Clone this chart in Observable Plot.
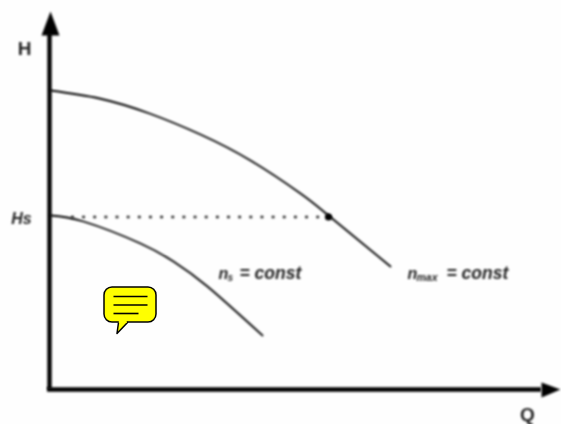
<!DOCTYPE html>
<html><head><meta charset="utf-8">
<script src="https://cdn.jsdelivr.net/npm/d3@7"></script>
<script src="https://cdn.jsdelivr.net/npm/@observablehq/plot@0.6"></script>
<style>
html,body{margin:0;padding:0;background:#fff}
svg{display:block}
g.soft{filter:blur(0.8px)}
</style></head><body><div id="c"></div>
<script>
// Q = pixels right of origin, H = pixels above origin
const nmaxQ=[1,50,100,151,201,251,279,341];
const nmaxH=[299,291,276,255,229,196,174,123];
const nsQ=[1,34,91,124,158,213];
const nsH=[174,168,146,128,103,54];
const hsLevel=172.5, hsQ=279, hsStart=22;
const axisQ=[0,492], axisH=[0,356];
const headUp={q:[-8,1,10,-8],h:[354,378,354,354]};
const headRight={q:[492,511,492,492],h:[7,0,-8,7]};
const bubble={q1:55,q2:107,h1:67,h2:102};
const tailQ=[69,67.5,78], tailH=[67,56,67];
const textLines=[{q1:64,q2:98,h:93},{q1:64,q2:98,h:84.5},{q1:64,q2:89,h:76}];
const toRows=(q,h)=>q.map((v,i)=>({q:v,h:h[i]}));
const dark="#000";
const soft={className:"soft"};
const font='"Liberation Sans",Arial,sans-serif';
const label={textAnchor:"start",fontFamily:font,fontStyle:"italic",fontWeight:"bold",fill:"#222",...soft};
const plot=Plot.plot({
  width:561,height:424,margin:0,style:{background:"#fefefe"},
  x:{type:"linear",domain:[-49,512],range:[0,561],axis:null},
  y:{type:"linear",domain:[-35,389],range:[424,0],axis:null},
  marks:[
    Plot.line(toRows(nmaxQ,nmaxH),{x:"q",y:"h",stroke:"#000",strokeWidth:1.8,curve:"natural",...soft}),
    Plot.line(toRows(nsQ,nsH),{x:"q",y:"h",stroke:"#000",strokeWidth:1.8,curve:"natural",...soft}),
    Plot.ruleY([hsLevel],{x1:hsStart,x2:hsQ,stroke:"#222",strokeWidth:2.6,strokeDasharray:"2.8 8.35",...soft}),
    Plot.dot([{q:hsQ,h:hsLevel}],{x:"q",y:"h",r:3.6,fill:"#000",...soft}),
    Plot.ruleX([0],{y1:axisH[0],y2:axisH[1],stroke:dark,strokeWidth:4.4,...soft}),
    Plot.ruleY([0],{x1:-2,x2:axisQ[1],stroke:dark,strokeWidth:4.4,...soft}),
    Plot.line(toRows(headUp.q,headUp.h),{x:"q",y:"h",fill:"#000",stroke:"none",...soft}),
    Plot.line(toRows(headRight.q,headRight.h),{x:"q",y:"h",fill:"#000",stroke:"none",...soft}),
    Plot.text(["H"],{x:-25,y:341,fontFamily:font,fontWeight:"bold",fontSize:19,fill:"#222",...soft}),
    Plot.text(["Q"],{x:478,y:-25,fontFamily:font,fontWeight:"bold",fontSize:19,fill:"#222",...soft}),
    Plot.text(["Hs"],{x:-28,y:171,fontFamily:font,fontStyle:"italic",fontWeight:"bold",fontSize:16,fill:"#222",...soft}),
    Plot.text(["n"],{x:169,y:116,...label,fontSize:16}),
    Plot.text(["s"],{x:178,y:112,...label,fontSize:10}),
    Plot.text(["= const"],{x:190,y:116,...label,fontSize:17.5}),
    Plot.text(["n"],{x:358,y:116,...label,fontSize:16}),
    Plot.text(["max"],{x:367,y:112,...label,fontSize:10.5}),
    Plot.text(["= const"],{x:397,y:116,...label,fontSize:17.5}),
    Plot.rect([bubble],{x1:"q1",x2:"q2",y1:"h1",y2:"h2",rx:8,ry:8,fill:"#ffff00",stroke:"#000",strokeWidth:1.5}),
    Plot.line(toRows(tailQ,tailH),{x:"q",y:"h",fill:"#ffff00",stroke:"#000",strokeWidth:1.5}),
    Plot.ruleX([70.5,72.5,74.5,76],{y1:68,y2:66,stroke:"#ffff00",strokeWidth:2.5}),
    Plot.link(textLines,{x1:"q1",x2:"q2",y1:"h",y2:"h",stroke:"#000",strokeWidth:1.6})
  ]
});
document.getElementById("c").append(plot);
</script></body></html>
